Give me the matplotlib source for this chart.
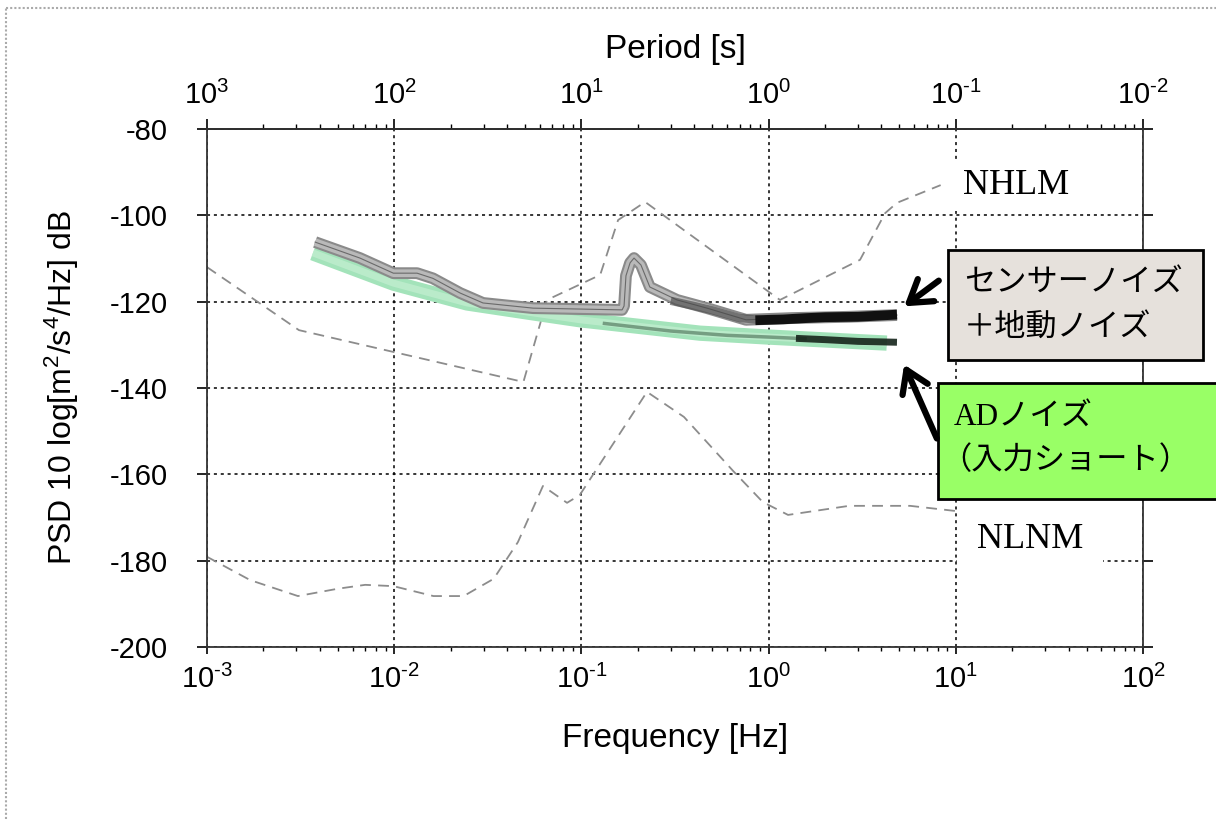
import matplotlib
matplotlib.use("Agg")
import matplotlib.pyplot as plt
import numpy as np
from matplotlib.patches import Rectangle, FancyArrowPatch
from matplotlib.lines import Line2D
from matplotlib.ticker import FixedLocator, FuncFormatter, NullFormatter

# NHLM / NLNM reference models (dashed)
nhlm_f = [1e-3, 3.1e-3, 0.049, 0.0655, 0.126, 0.157, 0.219, 1.15, 3.08, 4.19, 4.85, 8.3]
nhlm_db = [-112.0, -126.6, -138.6, -119.6, -113.8, -101.1, -96.9, -119.6, -110.3, -99.5, -97.1, -93.0]

nlnm_f = [1e-3, 1.7e-3, 3.06e-3, 5e-3, 7e-3, 9.9e-3, 0.0162, 0.0235, 0.034, 0.0458,
          0.0623, 0.0838, 0.098, 0.224, 0.353, 0.646, 0.93, 1.27, 2.69, 5.7, 10]
nlnm_db = [-179.1, -184.5, -188.2, -186.5, -185.6, -185.9, -188.2, -188.2, -184.2, -175.7,
           -162.7, -166.6, -164.8, -140.9, -146.7, -159.2, -166.4, -169.4, -167.3, -167.3, -168.5]

# sensor noise + ground noise
sensor_f = [3.78e-3, 6.56e-3, 9.9e-3, 0.01325, 0.0161, 0.0225, 0.0298, 0.0552, 0.165,
            0.169, 0.173, 0.182, 0.191, 0.208, 0.232, 0.324, 0.469, 0.757, 1.33, 2.69, 4.85]
sensor_db = [-106.2, -109.9, -113.4, -113.4, -114.6, -118.0, -120.3, -121.5, -121.9,
             -121.0, -114.0, -111.0, -109.9, -111.5, -116.6, -119.6, -121.5, -124.2, -123.8, -123.5, -123.1]
sensor_mid_f = [0.3, 0.4, 0.5, 0.7, 0.95]
sensor_mid_db = [-119.8, -121.0, -122.0, -123.8, -124.3]
sensor_hf_f = [0.85, 1.2, 1.6, 2.0, 3.0, 4.0, 4.85]
sensor_hf_db = [-124.3, -124.1, -123.8, -123.6, -123.5, -123.2, -123.0]

# AD noise (input short)
ad_f = [3.68e-3, 9.9e-3, 0.0245, 0.0552, 0.0985, 0.43, 1.0, 4.28]
ad_db = [-108.7, -115.7, -120.3, -122.6, -124.2, -127.3, -128.2, -129.6]
ad_mid_f = [0.13, 0.3, 0.6, 1.0, 1.6]
ad_mid_db = [-125.0, -126.8, -127.8, -128.2, -128.6]
ad_hf_f = [1.4, 2.0, 3.0, 4.85]
ad_hf_db = [-128.5, -128.8, -129.2, -129.4]

freq_ticks = [1e-3, 1e-2, 1e-1, 1e0, 1e1, 1e2]
freq_minor = [k * 10.0 ** e for e in range(-3, 2) for k in range(2, 10)]

W, H = 1216, 819

plt.rcParams['font.family'] = ['Liberation Sans', 'Noto Sans CJK JP']
plt.rcParams['mathtext.fontset'] = 'custom'
plt.rcParams['mathtext.rm'] = 'Liberation Sans'
plt.rcParams['mathtext.it'] = 'Liberation Sans:italic'
plt.rcParams['mathtext.bf'] = 'Liberation Sans:bold'
plt.rcParams['axes.unicode_minus'] = False


def freq_fmt(v, pos):
    e = int(round(np.log10(v)))
    return r'$\mathregular{10^{\text{%d}}}$' % e


def period_fmt(v, pos):
    # period = 1 / frequency
    e = -int(round(np.log10(v)))
    return r'$\mathregular{10^{\text{%d}}}$' % e


fig = plt.figure(figsize=(W / 100, H / 100), dpi=100)
ax = fig.add_axes([207 / W, 1 - 647 / H, (1143 - 207) / W, (647 - 129) / H])

ax.plot(nhlm_f, nhlm_db, color='#8c8c8c', lw=1.3, ls=(0, (6, 4)))
ax.plot(nlnm_f, nlnm_db, color='#8c8c8c', lw=1.3, ls=(0, (6, 4)))

ax.plot(ad_f, ad_db, color='#a3e3ba', lw=11, solid_capstyle='butt')
ax.plot(ad_f, ad_db, color='#c4efd2', lw=5, solid_capstyle='butt', alpha=0.7)
ax.plot(ad_mid_f, ad_mid_db, color='#3d5f48', lw=2.5, alpha=0.55, solid_capstyle='butt')
ax.plot(ad_hf_f, ad_hf_db, color='#15241a', lw=5, alpha=0.9, solid_capstyle='butt')

ax.plot(sensor_f, sensor_db, color='#8a8a8a', lw=8.5, solid_capstyle='butt')
ax.plot(sensor_f, sensor_db, color='#b9b9b9', lw=5.5, solid_capstyle='butt')
ax.plot(sensor_f, sensor_db, color='#6a6a6a', lw=0.8)
ax.plot(sensor_mid_f, sensor_mid_db, color='#444444', lw=6, alpha=0.6, solid_capstyle='butt')
ax.plot(sensor_hf_f, sensor_hf_db, color='#111111', lw=7, solid_capstyle='butt')

ax.set_xscale('log')
ax.set_xlim(1e-3, 1e2)
ax.set_ylim(-200, -80)
ax.set_yticks(np.arange(-200, -79, 20))
ax.xaxis.set_major_locator(FixedLocator(freq_ticks))
ax.xaxis.set_major_formatter(FuncFormatter(freq_fmt))
ax.xaxis.set_minor_locator(FixedLocator(freq_minor))
ax.xaxis.set_minor_formatter(NullFormatter())
ax.grid(True, which='major', color='black', lw=1.1, ls=(0, (2, 2.5)))

ax.tick_params(axis='x', which='major', direction='out', length=5, width=1.2,
               labelsize=21, pad=8, top=False)
ax.tick_params(axis='x', which='minor', direction='out', length=3, width=1.0, top=False)
ax.tick_params(axis='y', which='major', direction='out', length=7, width=1.2,
               labelsize=21, pad=21, left=True, right=True)
for s in ax.spines.values():
    s.set_linewidth(1.3)
    s.set_color('#333333')

# period axis on top (labels are 1/f at the decade ticks)
sec = ax.secondary_xaxis('top')
sec.xaxis.set_major_locator(FixedLocator(freq_ticks))
sec.xaxis.set_major_formatter(FuncFormatter(period_fmt))
sec.xaxis.set_minor_locator(FixedLocator(freq_minor))
sec.xaxis.set_minor_formatter(NullFormatter())
sec.tick_params(axis='x', which='major', direction='out', length=7, width=1.2, labelsize=21, pad=7)
sec.tick_params(axis='x', which='minor', direction='out', length=3.5, width=1.0)
sec.spines['top'].set_linewidth(1.3)
sec.set_xlabel('Period [s]', fontsize=24, labelpad=16)

ax.set_xlabel('Frequency [Hz]', fontsize=24, labelpad=21)
ax.set_ylabel('PSD 10 log[m$^2$/s$^4$/Hz] dB', fontsize=23, labelpad=21)

# model labels
fig.text(1016 / W, 1 - 186 / H, 'NHLM', fontsize=26, family='Liberation Serif',
         ha='center', va='center',
         bbox=dict(facecolor='white', edgecolor='none', pad=6))
fig.text(1030 / W, 1 - 539 / H, 'NLNM', fontsize=26, family='Liberation Serif',
         ha='center', va='center',
         bbox=dict(facecolor='white', edgecolor='none', pad=14))

# annotation boxes
fig.patches.append(Rectangle((948 / W, 1 - 360 / H), 255 / W, 110 / H,
                             transform=fig.transFigure, facecolor='#e6e1dc',
                             edgecolor='black', lw=2, zorder=3))
fig.text(964 / W, 1 - 282 / H, 'センサーノイズ', fontsize=22.5, family='Noto Sans CJK JP',
         ha='left', va='center', zorder=4)
fig.text(964 / W, 1 - 327 / H, '＋地動ノイズ', fontsize=22.5, family='Noto Sans CJK JP',
         ha='left', va='center', zorder=4)

fig.patches.append(Rectangle((938 / W, 1 - 499 / H), 290 / W, 116 / H,
                             transform=fig.transFigure, facecolor='#99ff66',
                             edgecolor='black', lw=2, zorder=3))
fig.text(954 / W, 1 - 417 / H, 'ADノイズ', fontsize=22.5,
         family=['Liberation Serif', 'Noto Sans CJK JP'],
         ha='left', va='center', zorder=4)
fig.text(940 / W, 1 - 460 / H, '（入力ショート）', fontsize=22.5, family='Noto Sans CJK JP',
         ha='left', va='center', zorder=4)

# arrows
for tail, tip in [((941, 279), (902, 308)), ((938, 441), (903, 362))]:
    fig.patches.append(FancyArrowPatch((tail[0] / W, 1 - tail[1] / H), (tip[0] / W, 1 - tip[1] / H),
                                       transform=fig.transFigure,
                                       arrowstyle='->,head_length=0.7,head_width=0.45',
                                       mutation_scale=22, lw=4.5, color='black', zorder=5))

# dotted page border
fig.add_artist(Line2D([6 / W, 6 / W], [0, 1 - 8 / H], transform=fig.transFigure,
                      color='#aaaaaa', lw=1.5, ls=(0, (1, 1))))
fig.add_artist(Line2D([6 / W, 1], [1 - 8 / H, 1 - 8 / H], transform=fig.transFigure,
                      color='#aaaaaa', lw=1.5, ls=(0, (1, 1))))

fig.savefig('out.png', dpi=100)
